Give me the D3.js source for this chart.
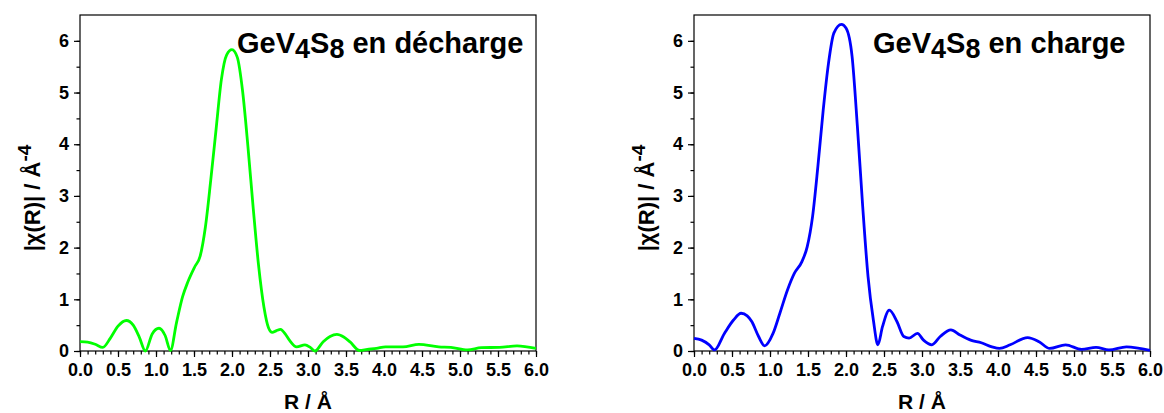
<!DOCTYPE html>
<html><head><meta charset="utf-8">
<script src="https://cdn.jsdelivr.net/npm/d3@7/dist/d3.min.js"></script>
<style>
body{margin:0;background:#fff}
svg{display:block}
text{font-family:Arial,"Liberation Sans",sans-serif;font-weight:bold;fill:#000}
</style>
</head><body>
<svg id="chart" width="1164" height="413"></svg>
<script>
// ---- data ----
const rDecharge = [0.00,0.10,0.20,0.30,0.40,0.50,0.61,0.70,0.78,0.86,0.95,1.04,1.12,1.19,1.27,1.35,1.42,1.51,1.58,1.65,1.72,1.79,1.86,1.93,2.00,2.07,2.14,2.21,2.28,2.35,2.42,2.48,2.53,2.58,2.64,2.70,2.76,2.85,2.96,3.03,3.09,3.20,3.29,3.38,3.47,3.55,3.68,3.78,3.90,4.02,4.25,4.46,4.72,4.88,5.10,5.28,5.52,5.75,6.00];
const chiDecharge = [0.18,0.17,0.13,0.07,0.25,0.48,0.59,0.50,0.27,0.00,0.33,0.44,0.30,0.01,0.55,1.05,1.34,1.63,1.83,2.40,3.30,4.28,5.25,5.73,5.83,5.68,5.02,3.95,2.75,1.65,0.85,0.45,0.36,0.39,0.42,0.33,0.20,0.08,0.12,0.07,0.00,0.18,0.28,0.32,0.27,0.18,0.01,0.03,0.05,0.08,0.08,0.13,0.08,0.07,0.02,0.065,0.07,0.10,0.05];

const rCharge = [0.00,0.10,0.20,0.27,0.40,0.52,0.62,0.70,0.76,0.85,0.93,1.04,1.13,1.23,1.32,1.42,1.49,1.56,1.63,1.70,1.77,1.84,1.94,2.00,2.08,2.15,2.22,2.29,2.36,2.42,2.48,2.57,2.67,2.76,2.83,2.94,3.02,3.13,3.24,3.38,3.50,3.64,3.78,3.92,4.02,4.16,4.39,4.54,4.68,4.89,5.10,5.29,5.46,5.69,6.00];
const chiCharge = [0.245,0.21,0.12,0.02,0.34,0.60,0.73,0.68,0.57,0.28,0.10,0.34,0.73,1.18,1.50,1.73,2.02,2.60,3.57,4.66,5.57,6.15,6.32,6.25,5.70,4.34,2.79,1.44,0.60,0.12,0.47,0.79,0.57,0.28,0.25,0.34,0.21,0.12,0.28,0.41,0.31,0.21,0.16,0.08,0.05,0.12,0.26,0.18,0.05,0.12,0.03,0.07,0.02,0.08,0.01];

const xTickValues = [0,0.5,1,1.5,2,2.5,3,3.5,4,4.5,5,5.5,6];
const xTickLabels = ["0.0","0.5","1.0","1.5","2.0","2.5","3.0","3.5","4.0","4.5","5.0","5.5","6.0"];
const yTickValues = [0,1,2,3,4,5,6];
const yTickLabels = ["0","1","2","3","4","5","6"];
const panelTitles = ["en décharge","en charge"];

// ---- layout ----
const panels = [
  {left:80, right:536, r:rDecharge, chi:chiDecharge, color:"#00ff00", title:panelTitles[0], titleX:237},
  {left:694, right:1150, r:rCharge, chi:chiCharge, color:"#0000ff", title:panelTitles[1], titleX:873}
];
const plotTop = 15, plotBottom = 351;
const svg = d3.select("#chart");
const FONT = "Arial, 'Liberation Sans', sans-serif";

panels.forEach(p => {
  const x = d3.scaleLinear().domain([0,6]).range([p.left,p.right]);
  const y = d3.scaleLinear().domain([0,6.5]).range([plotBottom,plotTop]);
  const g = svg.append("g");

  // minor ticks
  g.append("g").attr("transform",`translate(0,${plotBottom})`)
    .call(d3.axisBottom(x).tickValues(d3.range(0,61).map(i=>i/10)).tickSize(3.5).tickFormat(""))
    .call(a=>{a.select(".domain").remove(); a.selectAll("line").attr("stroke","#000").attr("stroke-width",1.2);});
  g.append("g").attr("transform",`translate(${p.left},0)`)
    .call(d3.axisLeft(y).tickValues(d3.range(0,13).map(i=>i/2)).tickSize(3.5).tickFormat(""))
    .call(a=>{a.select(".domain").remove(); a.selectAll("line").attr("stroke","#000").attr("stroke-width",1.2);});

  // major ticks
  const xa = g.append("g").attr("transform",`translate(0,${plotBottom})`)
    .call(d3.axisBottom(x).tickValues(xTickValues).tickSize(6).tickPadding(6)
      .tickFormat((d,i)=>xTickLabels[i]));
  xa.select(".domain").remove();
  xa.selectAll("line").attr("stroke","#000").attr("stroke-width",1.2);
  xa.selectAll("text").attr("font-size",18).attr("font-family",FONT).attr("font-weight","bold").attr("fill","#000");

  const ya = g.append("g").attr("transform",`translate(${p.left},0)`)
    .call(d3.axisLeft(y).tickValues(yTickValues).tickSize(6).tickPadding(5)
      .tickFormat((d,i)=>yTickLabels[i]));
  ya.select(".domain").remove();
  ya.selectAll("line").attr("stroke","#000").attr("stroke-width",1.2);
  ya.selectAll("text").attr("font-size",18).attr("font-family",FONT).attr("font-weight","bold").attr("fill","#000");

  // frame
  g.append("rect").attr("x",p.left).attr("y",plotTop).attr("width",p.right-p.left).attr("height",plotBottom-plotTop)
    .attr("fill","none").attr("stroke","#000").attr("stroke-width",1.2);

  // curve
  const pts = p.r.map((v,i)=>[v,p.chi[i]]);
  g.append("path").datum(pts)
    .attr("fill","none").attr("stroke",p.color).attr("stroke-width",2.8).attr("stroke-linejoin","round")
    .attr("d", d3.line().x(d=>x(d[0])).y(d=>y(d[1])).curve(d3.curveMonotoneX));

  // title
  const t = g.append("text").attr("x",p.titleX).attr("y",53).attr("font-size",29);
  t.append("tspan").text("GeV");
  t.append("tspan").attr("dy",5).attr("font-size",27).text("4");
  t.append("tspan").attr("dy",-5).text("S");
  t.append("tspan").attr("dy",5).attr("font-size",27).text("8");
  t.append("tspan").attr("dy",-5).text(" " + p.title);

  // x label
  g.append("text").attr("x",(p.left+p.right)/2).attr("y",409).attr("text-anchor","middle")
    .attr("font-size",21).text("R / Å");

  // y label
  const yl = g.append("text").attr("transform",`translate(${p.left-40.5},198) rotate(-90)`)
    .attr("text-anchor","middle").attr("font-size",22);
  yl.append("tspan").text("|χ(R)| / Å");
  yl.append("tspan").attr("dy",-9).attr("font-size",19).text("-4");
});
</script>
</body></html>
